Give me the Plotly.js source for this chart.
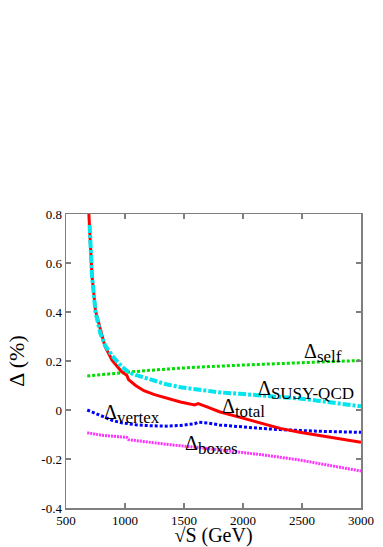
<!DOCTYPE html>
<html>
<head>
<meta charset="utf-8">
<script src="https://cdn.plot.ly/plotly-3.0.1.min.js"></script>
<style>
	html, body { margin: 0; padding: 0; background: #fff; }
	#plot { width: 383px; height: 547px; }
</style>
</head>
<body>
<div id="plot"></div>
<script>
	'use strict';

	// sqrt(S) in GeV, shared by all the curves
	const energy = [680, 700, 720, 750, 790, 830, 890, 970, 1015, 1030, 1090, 1160, 1250, 1350,
		1470, 1590, 1620, 1700, 1800, 1975, 2150, 2315, 2480, 2650, 2820, 3000];

	// corrections in %
	const deltaTotal = [0.93, 0.76, 0.55, 0.405, 0.33, 0.26, 0.203, 0.157, 0.142, 0.124, 0.1, 0.079,
		0.063, 0.048, 0.033, 0.021, 0.026, 0.012, -0.007, -0.03, -0.054, -0.075, -0.091, -0.105, -0.118, -0.132];
	const deltaSusyQcd = [null, 0.755, 0.55, 0.4, 0.315, 0.265, 0.222, 0.178, 0.16, 0.155, 0.143, 0.132,
		0.12, 0.105, 0.093, 0.085, 0.083, 0.078, 0.072, 0.066, 0.06, 0.054, 0.047, 0.037, 0.027, 0.015];
	const deltaSelf = [0.139, 0.14, 0.141, 0.142, 0.144, 0.146, 0.149, 0.152, 0.154, 0.155, 0.157, 0.16,
		0.164, 0.167, 0.171, 0.174, 0.175, 0.177, 0.179, 0.183, 0.187, 0.19, 0.193, 0.196, 0.199, 0.202];
	const deltaVertex = [0.0, -0.004, -0.009, -0.014, -0.021, -0.03, -0.042, -0.052, -0.056, -0.057, -0.06, -0.063,
		-0.065, -0.066, -0.063, -0.056, -0.05, -0.053, -0.061, -0.069, -0.075, -0.08, -0.084, -0.087, -0.089, -0.091];
	const deltaBoxes = [-0.093, -0.095, -0.097, -0.099, -0.102, -0.104, -0.107, -0.11, -0.112, -0.121, -0.125, -0.13,
		-0.135, -0.14, -0.146, -0.151, -0.152, -0.157, -0.163, -0.172, -0.182, -0.193, -0.204, -0.219, -0.233, -0.249];

	// axis ticks
	const xTicks = [500, 1000, 1500, 2000, 2500, 3000];
	const yTicks = [-0.4, -0.2, 0, 0.2, 0.4, 0.6, 0.8];
	const yTickText = ['-0.4', '-0.2', '0', '0.2', '0.4', '0.6', '0.8'];

	// curve labels: subscript, x, y
	const labelSub = ['self', 'SUSY-QCD', 'total', 'vertex', 'boxes'];
	const labelX = [2503, 2110, 1805, 803, 1493];
	const labelY = [0.232, 0.08, 0.008, -0.018, -0.142];

	const serif = 'Liberation Serif, Times New Roman, serif';
	const axisGrey = '#7f7f7f';

	/**
	* one line trace
	*/
	const curve = ( y, color, width, dash ) => ({
		x: energy,
		y,
		type: 'scatter',
		mode: 'lines',
		line: { color, width, dash },
		hoverinfo: 'skip',
		showlegend: false,
	});

	const data = [
		curve( deltaSelf, '#00dd00', 3, '3px,2px' ),
		curve( deltaVertex, '#0000ff', 3, '3px,2px' ),
		curve( deltaBoxes, '#ff33ff', 3, '2px,1px' ),
		curve( deltaTotal, '#ff0000', 3, 'solid' ),
		curve( deltaSusyQcd, '#00e5ee', 4, '8px,2px,3px,2px' ),
	];

	const axis = {
		showgrid: false,
		zeroline: false,
		showline: true,
		linecolor: axisGrey,
		linewidth: 1.5,
		mirror: 'ticks',
		ticks: 'inside',
		ticklen: 5,
		tickwidth: 1.5,
		tickcolor: axisGrey,
		tickfont: { family: serif, size: 13, color: '#000' },
	};

	const layout = {
		width: 383,
		height: 547,
		margin: { l: 66, r: 22, t: 214, b: 39 },
		paper_bgcolor: '#fff',
		plot_bgcolor: '#fff',
		xaxis: Object.assign({}, axis, {
			range: [500, 3000],
			tickvals: xTicks,
			title: { text: '√S (GeV)', font: { family: serif, size: 20, color: '#000' }, standoff: 0 },
		}),
		yaxis: Object.assign({}, axis, {
			range: [-0.4, 0.8],
			tickvals: yTicks,
			ticktext: yTickText,
			title: { text: 'Δ (%)', font: { family: serif, size: 22, color: '#000' }, standoff: 10 },
		}),
		// subscripts kept near full size, as in the original
		annotations: labelSub.map(( sub, i ) => ({
			text: `Δ<sub><span style="font-size:17px">${sub}</span></sub>`,
			x: labelX[i],
			y: labelY[i],
			xref: 'x',
			yref: 'y',
			xanchor: 'left',
			yanchor: 'middle',
			showarrow: false,
			font: { family: serif, size: 20, color: '#000' },
		})),
	};

	Plotly.newPlot( 'plot', data, layout, { displayModeBar: false, staticPlot: true });
</script>
</body>
</html>
